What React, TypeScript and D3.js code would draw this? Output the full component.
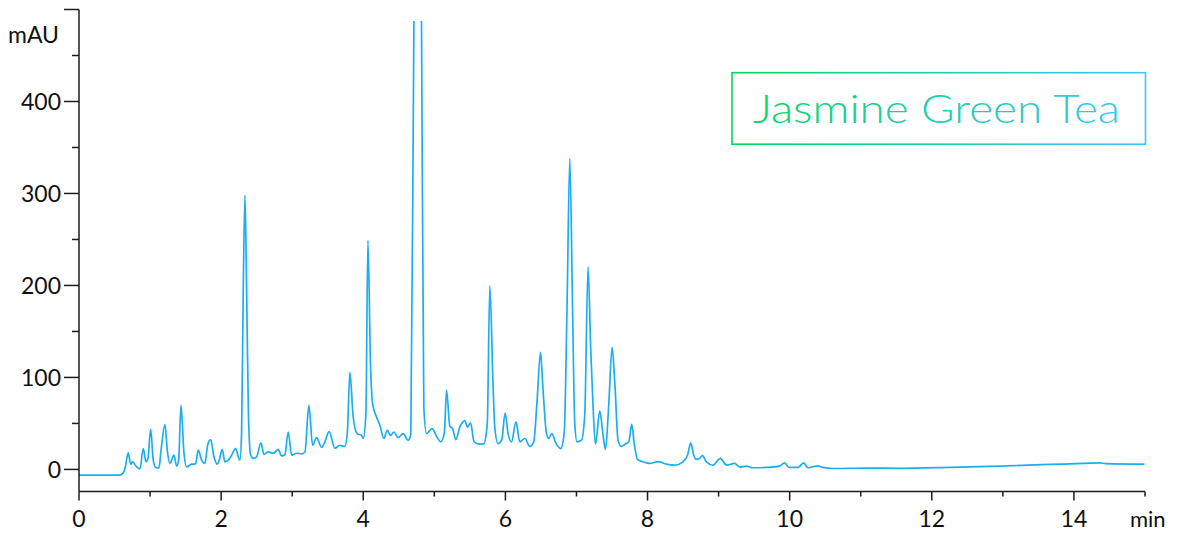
import React from "react";
import * as d3 from "d3";

// Chromatogram trace: [time (min), absorbance (mAU)]
const traceTime: number[] = [
  0, 0.567, 0.62, 0.647, 0.693, 0.727, 0.755, 0.802, 0.858, 0.904, 0.942, 0.97, 1.008, 1.045, 1.079, 1.125,
  1.153, 1.21, 1.242, 1.28, 1.336, 1.374, 1.402, 1.435, 1.477, 1.515, 1.585, 1.641, 1.678, 1.726, 1.772, 1.81,
  1.852, 1.899, 1.945, 1.973, 2.015, 2.053, 2.1, 2.148, 2.204, 2.241, 2.264, 2.288, 2.312, 2.335, 2.358, 2.384,
  2.415, 2.451, 2.499, 2.56, 2.602, 2.662, 2.733, 2.803, 2.851, 2.897, 2.944, 2.992, 3.062, 3.132, 3.179, 3.235,
  3.287, 3.343, 3.414, 3.46, 3.52, 3.601, 3.671, 3.741, 3.776, 3.812, 3.858, 3.914, 3.976, 3.999, 4.037, 4.065,
  4.103, 4.131, 4.187, 4.234, 4.29, 4.336, 4.384, 4.43, 4.491, 4.561, 4.631, 4.669, 4.712, 4.768, 4.82, 4.852,
  4.89, 4.969, 5.031, 5.091, 5.141, 5.172, 5.218, 5.256, 5.302, 5.359, 5.429, 5.467, 5.509, 5.56, 5.64, 5.696,
  5.745, 5.781, 5.827, 5.851, 5.897, 5.949, 5.996, 6.038, 6.086, 6.149, 6.203, 6.273, 6.343, 6.399, 6.446, 6.494,
  6.53, 6.578, 6.61, 6.653, 6.709, 6.779, 6.828, 6.868, 6.906, 6.944, 6.976, 7.008, 7.07, 7.117, 7.163, 7.201,
  7.234, 7.267, 7.328, 7.37, 7.408, 7.454, 7.501, 7.539, 7.585, 7.633, 7.693, 7.736, 7.778, 7.813, 7.858, 7.937,
  8.031, 8.148, 8.266, 8.383, 8.499, 8.565, 8.608, 8.65, 8.687, 8.734, 8.772, 8.828, 8.921, 9.025, 9.11, 9.226,
  9.297, 9.391, 9.484, 9.673, 9.859, 9.93, 9.99, 10.117, 10.197, 10.257, 10.398, 10.468, 10.609, 11.078, 11.547, 12.25,
  12.954, 13.657, 14.125, 14.36, 14.45, 14.993,
];
const traceValue: number[] = [
  -6.2, -6.2, -4, 1, 18, 5.7, 8.3, 3.6, 0.5, 22.7, 8.3, 11.9, 43.6, 10, 2.1, 1.5,
  20, 48.7, 21, 6.5, 15.5, 3.6, 10, 69.6, 17.6, 2.8, 5.7, 6, 21, 10, 6.5, 26.3,
  32.5, 13.7, 5.7, 10, 21.7, 8.3, 10, 15.5, 22.7, 13.7, 10, 40, 200, 298, 200, 60,
  16, 12, 13.7, 28.8, 16.6, 19, 17.6, 21.7, 14.8, 16, 40.7, 15.5, 17.6, 17, 19, 69.6,
  26.3, 34.6, 24, 30, 41, 23, 26.3, 25, 40, 105.5, 57, 39, 37, 33.6, 60, 249,
  111, 71.5, 57, 48, 33.6, 42.6, 37, 40.7, 34.6, 39, 31.7, 38, 480, 900, 480, 67.8,
  39, 44.4, 36, 30, 40, 86, 47, 44.4, 32.5, 46, 53, 46, 50.5, 30, 27.4, 28,
  50, 199.6, 90, 45, 28, 32, 61.3, 39, 30, 51.6, 30, 33.6, 25, 30, 75, 127.4,
  86, 39, 33.6, 39, 28.8, 22.7, 40, 180, 338, 180, 50, 30, 31.7, 60, 220, 130,
  67.8, 27.4, 63.5, 40, 21.7, 70, 132.8, 95, 31.7, 25, 28, 30, 49, 28, 11, 8.3,
  6.5, 8.5, 5.7, 4.7, 8.3, 16, 28.8, 15.5, 11, 12, 15, 8.3, 4.7, 12, 4.7, 6.5,
  2.5, 3.6, 1.8, 2.2, 3.6, 7.2, 2.2, 2.2, 7.2, 1.8, 3.9, 2.2, 1, 1.5, 1.2, 2.2,
  3.6, 5.4, 6.5, 7.2, 6.3, 5.7,
];

const xMajorTicks: number[] = [0, 2, 4, 6, 8, 10, 12, 14];
const xMinorTicks: number[] = [1, 3, 5, 7, 9, 11, 13, 15];
const yMajorTicks: number[] = [0, 100, 200, 300, 400, 500];
const yLabelTicks: number[] = [0, 100, 200, 300, 400];
const yMinorTicks: number[] = [50, 150, 250, 350, 450];
const xUnit = "min";
const yUnit = "mAU";
const legendLabel = "Jasmine Green Tea";

const W = 1180;
const H = 534;
const FONT = "Lato, 'Open Sans', sans-serif";

export default function App() {
  const x = d3.scaleLinear().domain([0, 15]).range([79, 1145]);
  const y = d3.scaleLinear().domain([-24, 500]).range([491.5, 9.5]);

  const pts: [number, number][] = traceTime.map((t, i) => [t, traceValue[i]]);
  const line = d3
    .line<[number, number]>()
    .x((d) => x(d[0]))
    .y((d) => y(d[1]))
    .curve(d3.curveMonotoneX);

  const axisColor = "#1c1c1c";
  const x0 = x(0);
  const yBase = y(-24);

  return (
    <svg
      width={W}
      height={H}
      viewBox={`0 0 ${W} ${H}`}
      style={{ position: "absolute", left: 0, top: 0, background: "#fff" }}
      fontFamily={FONT}
    >
      <defs>
        <clipPath id="plotClip">
          <rect x={x0} y={21} width={x(15) - x0} height={yBase - 21} />
        </clipPath>
        <linearGradient id="legendGrad" gradientUnits="userSpaceOnUse" x1={732} y1={0} x2={1146} y2={0}>
          <stop offset="0" stopColor="#05d657" />
          <stop offset="0.45" stopColor="#1ccfa6" />
          <stop offset="1" stopColor="#3ec5fa" />
        </linearGradient>
      </defs>

      {/* trace */}
      <path
        d={line(pts) || ""}
        fill="none"
        stroke="#1aafec"
        strokeWidth={1.7}
        strokeLinejoin="round"
        clipPath="url(#plotClip)"
      />

      {/* y axis */}
      <line x1={x0} x2={x0} y1={y(500)} y2={yBase} stroke={axisColor} strokeWidth={1.5} />
      {yMajorTicks.map((v) => (
        <line key={"ym" + v} x1={x0 - 15} x2={x0} y1={y(v)} y2={y(v)} stroke={axisColor} strokeWidth={1.5} />
      ))}
      {yMinorTicks.map((v) => (
        <line key={"yn" + v} x1={x0 - 7} x2={x0} y1={y(v)} y2={y(v)} stroke={axisColor} strokeWidth={1.5} />
      ))}
      {yLabelTicks.map((v) => (
        <text
          key={"yl" + v}
          x={61}
          y={y(v)}
          dy="0.36em"
          textAnchor="end"
          fontSize={23}
          fill="#111"
        >
          {v}
        </text>
      ))}
      <text x={8} y={43} fontSize={23} fill="#111">
        {yUnit}
      </text>

      {/* x axis */}
      <line x1={x0} x2={x(15)} y1={yBase} y2={yBase} stroke={axisColor} strokeWidth={1.5} />
      {xMajorTicks.map((t) => (
        <line key={"xm" + t} x1={x(t)} x2={x(t)} y1={yBase} y2={yBase + 9} stroke={axisColor} strokeWidth={1.5} />
      ))}
      {xMinorTicks.map((t) => (
        <line key={"xn" + t} x1={x(t)} x2={x(t)} y1={yBase} y2={yBase + 5} stroke={axisColor} strokeWidth={1.5} />
      ))}
      {xMajorTicks.map((t) => (
        <text key={"xl" + t} x={x(t)} y={527} textAnchor="middle" fontSize={23} fill="#111">
          {t}
        </text>
      ))}
      <text x={1130} y={527} fontSize={22} fill="#111">
        {xUnit}
      </text>

      {/* legend */}
      <rect x={732} y={72.7} width={413.5} height={71.5} fill="#fff" stroke="url(#legendGrad)" strokeWidth={1.6} />
      <text
        x={753}
        y={123}
        fontSize={40}
        fontWeight={300}
        fill="url(#legendGrad)"
        textLength={367}
        lengthAdjust="spacingAndGlyphs"
      >
        {legendLabel}
      </text>
    </svg>
  );
}
